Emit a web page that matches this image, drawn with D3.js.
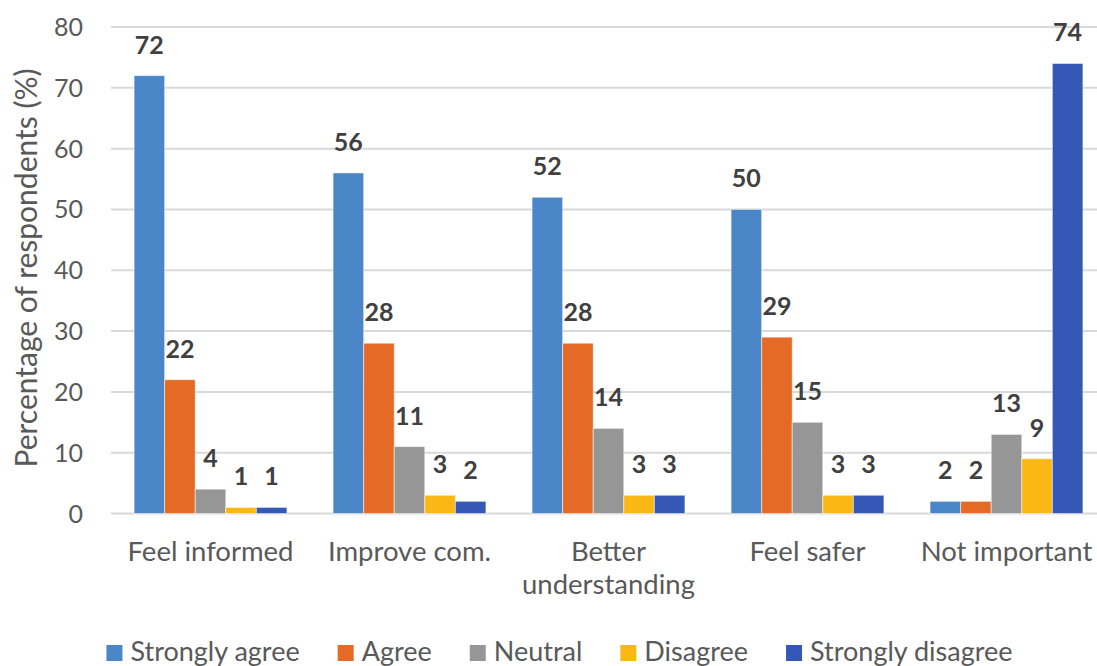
<!DOCTYPE html>
<html><head><meta charset="utf-8">
<script src="https://cdn.jsdelivr.net/npm/d3@7"></script>
<style>body{margin:0;background:#fff;overflow:hidden}svg{display:block}</style>
</head><body>
<svg id="c" width="1097" height="666"></svg>
<script>
const categories = [["Feel informed"],["Improve com."],["Better","understanding"],["Feel safer"],["Not important"]];
const seriesNames = ["Strongly agree","Agree","Neutral","Disagree","Strongly disagree"];
const seriesColors = ["#4A86C8","#E46A26","#969696","#FBB714","#3558B6"];
const stronglyAgree = [72,56,52,50,2];
const agree = [22,28,28,29,2];
const neutral = [4,11,14,15,13];
const disagree = [1,3,3,3,9];
const stronglyDisagree = [1,2,3,3,74];
const yTicks = [0,10,20,30,40,50,60,70,80];
const yTitle = "Percentage of respondents (%)";

const series = [stronglyAgree, agree, neutral, disagree, stronglyDisagree];
const FONT = "Lato, 'Open Sans', sans-serif";
const svg = d3.select("#c");

const x0 = d3.scaleBand().domain(d3.range(categories.length)).range([111, 1106]).paddingInner(0.232).paddingOuter(0.116);
const x1 = d3.scaleBand().domain(d3.range(series.length)).range([0, x0.bandwidth()]);
const y = d3.scaleLinear().domain([0, 80]).range([513.5, 27]);

// gridlines
svg.append("g").selectAll("line").data(yTicks).join("line")
  .attr("x1", 111).attr("x2", 1106)
  .attr("y1", d => y(d)).attr("y2", d => y(d))
  .attr("stroke", "#d9d9d9").attr("stroke-width", 2);

// y tick labels
svg.append("g").selectAll("text").data(yTicks).join("text")
  .attr("x", 83).attr("y", d => y(d)).attr("dy", "0.36em")
  .attr("text-anchor", "end").attr("font-family", FONT).attr("font-size", 25)
  .attr("fill", "#595959").text(d => d);

// y title
svg.append("text").attr("transform", "translate(37,268) rotate(-90)")
  .attr("text-anchor", "middle").attr("font-family", FONT).attr("font-size", 30)
  .attr("fill", "#595959").text(yTitle);

// bars
const groups = svg.append("g").selectAll("g").data(categories).join("g")
  .attr("transform", (d, i) => `translate(${x0(i)},0)`);
groups.each(function(cat, ci) {
  const g = d3.select(this);
  const vals = series.map((s, si) => ({si, v: s[ci]}));
  g.selectAll("rect").data(vals).join("rect")
    .attr("x", d => x1(d.si)).attr("width", x1.bandwidth())
    .attr("y", d => y(d.v)).attr("height", d => y(0) - y(d.v))
    .attr("fill", d => seriesColors[d.si])
    .attr("stroke", "#ffffff").attr("stroke-opacity", 0.5).attr("stroke-width", 1);
  g.selectAll("text.v").data(vals).join("text").attr("class", "v")
    .attr("x", d => x1(d.si) + x1.bandwidth() / 2).attr("y", d => y(d.v) - 22)
    .attr("text-anchor", "middle").attr("font-family", FONT).attr("font-weight", "bold")
    .attr("font-size", 25).attr("fill", "#404040").text(d => d.v);
});

// category labels
const cl = svg.append("g").selectAll("text").data(categories).join("text")
  .attr("x", (d, i) => x0(i) + x0.bandwidth() / 2).attr("y", 561)
  .attr("text-anchor", "middle").attr("font-family", FONT).attr("font-size", 27.5)
  .attr("fill", "#595959");
cl.selectAll("tspan").data(d => d).join("tspan")
  .attr("x", function() { return d3.select(this.parentNode).attr("x"); })
  .attr("dy", (d, i) => i === 0 ? 0 : 33).text(d => d);

// legend
const leg = svg.append("g");
const items = leg.selectAll("g").data(seriesNames).join("g");
items.append("rect").attr("width", 16).attr("height", 16).attr("y", 645)
  .attr("fill", (d, i) => seriesColors[i]);
items.append("text").attr("x", 24).attr("y", 661).attr("font-family", FONT)
  .attr("font-size", 27).attr("fill", "#595959").text(d => d);
let cx = 0; const pos = [];
items.each(function() { pos.push(cx); cx += 24 + this.querySelector("text").getComputedTextLength() + 38; });
const total = cx - 38;
const start = 559.5 - total / 2;
items.attr("transform", (d, i) => `translate(${start + pos[i]},0)`);
</script>
</body></html>
